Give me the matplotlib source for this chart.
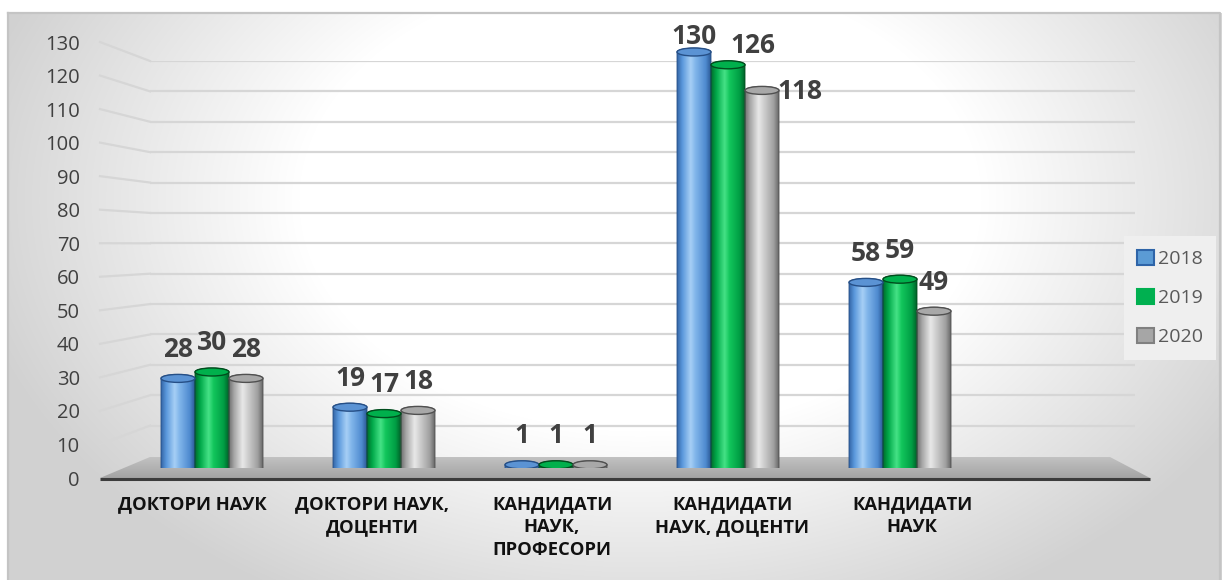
import numpy as np
import matplotlib
matplotlib.use("Agg")
import matplotlib.pyplot as plt
from matplotlib.colors import LinearSegmentedColormap
from matplotlib.patches import Polygon, Ellipse, PathPatch, Patch, Rectangle
from matplotlib.path import Path

# ---------------- data ----------------
categories = ["ДОКТОРИ НАУК", "ДОКТОРИ НАУК,\nДОЦЕНТИ", "КАНДИДАТИ\nНАУК,\nПРОФЕСОРИ",
              "КАНДИДАТИ\nНАУК, ДОЦЕНТИ", "КАНДИДАТИ\nНАУК"]
years = ["2018", "2019", "2020"]
v2018 = [28, 19, 1, 130, 58]
v2019 = [30, 17, 1, 126, 59]
v2020 = [28, 18, 1, 118, 49]
y_ticks = list(range(0, 131, 10))

# ---------------- styles ----------------
plt.rcParams['font.family'] = ['Open Sans', 'DejaVu Sans']
W, H = 1222, 580
fig = plt.figure(figsize=(W / 100, H / 100), dpi=100)

body_cmaps = [
    LinearSegmentedColormap.from_list("b", [(0, "#3567a8"), (0.15, "#5a98dc"), (0.4, "#a6cff5"),
                                             (0.55, "#80b5ea"), (0.85, "#4f8bd0"), (1, "#2d5b98")]),
    LinearSegmentedColormap.from_list("g", [(0, "#006f2c"), (0.15, "#00a849"), (0.4, "#45e286"),
                                             (0.55, "#12c65c"), (0.85, "#009e44"), (1, "#00642a")]),
    LinearSegmentedColormap.from_list("k", [(0, "#727272"), (0.15, "#a8a8a8"), (0.4, "#e8e8e8"),
                                             (0.55, "#d0d0d0"), (0.85, "#a0a0a0"), (1, "#6a6a6a")]),
]
cap_face = ["#5b93d4", "#00b04c", "#a8a8a8"]
cap_edge = ["#264f86", "#004d1d", "#505050"]
legend_face = ["#5b9bd5", "#00b050", "#a6a6a6"]
legend_edge = ["#2e64a8", "#00b050", "#808080"]
# label position tweaks (points) for crowded labels: (series, category) -> (dx, dy)
label_shift = {(0, 3): (0, 11), (1, 3): (18, 14), (2, 3): (27, -1)}


def axes_px(x0, x1, ytop, ybot, **kw):
    return fig.add_axes([x0 / W, (H - ybot) / H, (x1 - x0) / W, (ybot - ytop) / H], **kw)


# ---------------- background ----------------
bg = axes_px(0, W, 0, H, zorder=0)
bg.set_xlim(0, W)
bg.set_ylim(H, 0)
bg.axis("off")
yy, xx = np.mgrid[0:H, 0:W]
d = np.sqrt(((xx - 640) / 620.0) ** 2 + ((yy - 200) / 420.0) ** 2)
t = np.clip((d - 0.55) / 0.55, 0, 1)
val = 1 - t * 0.18
val[(xx < 8) | (yy < 13)] = 1.0
img = np.dstack([val, val, val])
bg.imshow(img, extent=(0, W, H, 0), origin="upper", interpolation="bilinear", aspect="auto")
bg.plot([8, W - 2, W - 2], [13, 13, H], color="#c4c4c4", lw=1.6)
bg.plot([8, 8], [13, H], color="#c4c4c4", lw=1.6)

# floor
floor = Polygon([(100, 478), (150, 457), (1110, 457), (1150, 478)], closed=True,
                facecolor="none", edgecolor="none")
bg.add_patch(floor)
fg = np.linspace(0.76, 0.64, 50).reshape(-1, 1) * np.ones((1, 10))
fim = bg.imshow(np.dstack([fg, fg, fg]), extent=(100, 1150, 478, 457), origin="upper",
                aspect="auto", interpolation="bilinear")
fim.set_clip_path(floor)
bg.plot([100, 1150], [478.5, 478.5], color="#3c3c3c", lw=2.2, solid_capstyle="butt")

# ---------------- front plane axes (tick labels, categories) ----------------
ax_f = axes_px(102, 1002, 42, 478, zorder=2)
ax_f.set_xlim(-0.5, 4.5)
ax_f.set_ylim(0, 130)
ax_f.patch.set_visible(False)
for s in ax_f.spines.values():
    s.set_visible(False)
ax_f.set_yticks(y_ticks)
ax_f.tick_params(axis="y", length=0, pad=16, labelsize=14.5, labelcolor="#404040")
ax_f.set_xticks(range(len(categories)))
ax_f.set_xticklabels(categories, fontweight="bold", fontsize=13.2, color="#111111",
                     linespacing=1.38)
ax_f.tick_params(axis="x", length=0, pad=12)

# ---------------- back wall gridlines ----------------
ax_w = axes_px(150, 1135, 61, 456, zorder=1)
ax_w.set_xlim(0, 1)
ax_w.set_ylim(0, 130)
ax_w.axis("off")
ax_w.hlines(y_ticks[1:], 0, 1, color="#d6d6d6", lw=1.6)
inv = bg.transData.inverted()
for v in y_ticks[1:]:
    yf = inv.transform(ax_f.transData.transform((0, v)))[1]
    yw = inv.transform(ax_w.transData.transform((0, v)))[1]
    bg.plot([100, 150], [yf, yw], color="#d6d6d6", lw=1.6)

# ---------------- bars (cylinders) ----------------
ax = axes_px(126, 986, 20, 468, zorder=3)
ax.set_xlim(-0.5, 4.5)
ax.set_ylim(0, 140)
ax.axis("off")
bw = 34 / 172.0
eh = 4 / 3.2  # ellipse half height in data units
grad = np.linspace(0, 1, 64).reshape(1, -1)
x = np.arange(len(categories))
for j, vals in enumerate([v2018, v2019, v2020]):
    bars = ax.bar(x + (j - 1) * bw, vals, width=bw, color="none", edgecolor="none")
    for i, rect in enumerate(bars):
        x0 = rect.get_x()
        x1 = x0 + rect.get_width()
        xc = (x0 + x1) / 2
        v = rect.get_height()
        tt = np.linspace(np.pi, 2 * np.pi, 40)
        bot = np.column_stack([xc + (bw / 2) * np.cos(tt), eh * np.sin(tt)])
        tt2 = np.linspace(0, np.pi, 40)
        top = np.column_stack([xc + (bw / 2) * np.cos(tt2), v + eh * np.sin(tt2)])
        verts = np.vstack([bot, top, bot[:1]])
        codes = [Path.MOVETO] + [Path.LINETO] * (len(verts) - 2) + [Path.CLOSEPOLY]
        pth = Path(verts, codes)
        pp = PathPatch(pth, facecolor="none", edgecolor=cap_edge[j], lw=0.6, zorder=3)
        ax.add_patch(pp)
        im = ax.imshow(grad, cmap=body_cmaps[j], extent=(x0, x1, -eh, v + eh), aspect="auto",
                       interpolation="bilinear", zorder=2)
        im.set_clip_path(pp)
        ax.add_patch(Ellipse((xc, v), bw, 2 * eh, facecolor=cap_face[j], edgecolor=cap_edge[j],
                             lw=1.0, zorder=4))
        dx, dy = label_shift.get((j, i), (0, 21))
        ax.annotate(str(int(v)), (xc, v), xytext=(dx, dy), textcoords="offset points",
                    ha="center", va="center", fontsize=19, fontweight="bold", color="#404040",
                    zorder=5)
ax.set_xlim(-0.5, 4.5)
ax.set_ylim(0, 140)

# ---------------- legend ----------------
handles = [Patch(facecolor=legend_face[k], edgecolor=legend_edge[k], lw=1.5) for k in range(3)]
leg = fig.legend(handles, years, loc="center left", bbox_to_anchor=(1114 / W, 1 - 298 / H),
                 frameon=True, fontsize=14, handlelength=0.85, handleheight=0.85,
                 handletextpad=0.2, labelspacing=1.05, borderpad=0.7, labelcolor="#595959")
fr = leg.get_frame()
fr.set_facecolor("#efefef")
fr.set_edgecolor("none")
fr.set_alpha(1)
fr.set_boxstyle("square", pad=0)

fig.savefig("out.png", dpi=100)
